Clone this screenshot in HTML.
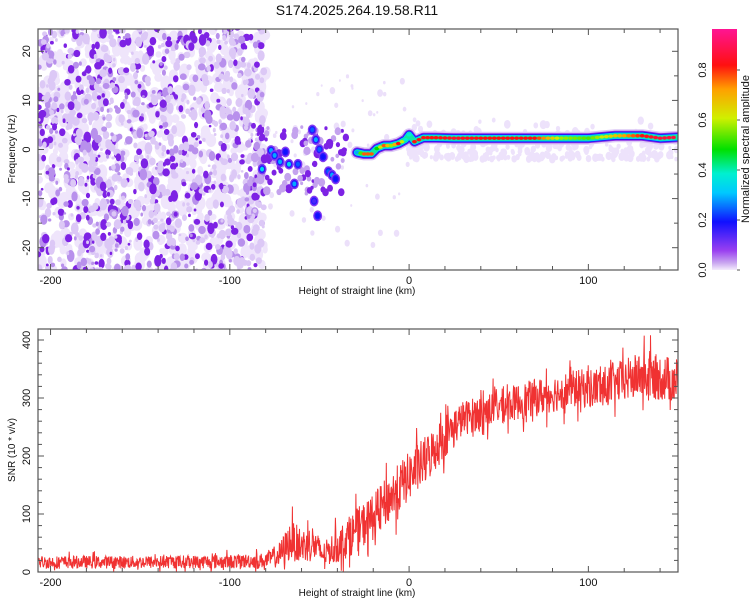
<!DOCTYPE html>
<html><head><meta charset="utf-8"><style>
body{margin:0;background:#fff;}
svg{display:block;font-family:"Liberation Sans",sans-serif;}
</style></head><body>
<svg id="chart" width="750" height="600" viewBox="0 0 750 600">
<text x="357" y="15" font-size="14" text-anchor="middle" fill="#111">S174.2025.264.19.58.R11</text>
<defs>
<clipPath id="c1"><rect x="38" y="29" width="640" height="241"/></clipPath>
<clipPath id="c2"><rect x="38" y="329" width="640" height="243"/></clipPath>
<linearGradient id="cbg" x1="0" y1="1" x2="0" y2="0">
<stop offset="0" stop-color="#f4ecfc"/><stop offset="0.03" stop-color="#c9a6f0"/><stop offset="0.08" stop-color="#9a40f0"/>
<stop offset="0.2" stop-color="#1010ff"/><stop offset="0.32" stop-color="#00c8ff"/><stop offset="0.4" stop-color="#00f0d0"/>
<stop offset="0.5" stop-color="#00e000"/><stop offset="0.63" stop-color="#d0f000"/><stop offset="0.75" stop-color="#ffa000"/>
<stop offset="0.85" stop-color="#ff1010"/><stop offset="1" stop-color="#ff1493"/></linearGradient>
</defs>
<g id="heat" clip-path="url(#c1)"></g>
<g id="snr" clip-path="url(#c2)"></g>
<g id="axes"></g>
<rect x="712" y="29" width="25" height="241" fill="url(#cbg)"/>
<text transform="translate(749,149) rotate(-90)" font-size="11" text-anchor="middle" fill="#111">Normalized spectral amplitude</text>
</svg>
<script>
// ---- data ----
const xTicks=[-200,-100,0,100];
const fTicks=[-20,-10,0,10,20];
const snrTicks=[0,100,200,300,400];
const cbTicks=[0.0,0.2,0.4,0.6,0.8];
// ridge of spectral peak (km, Hz, amplitude)
const ridgeX=[-29,-25,-21,-18,-14,-10,-6,-2,0,3,8,15,25,40,55,70,85,100,115,130,140,150];
const ridgeF=[-0.6,-0.9,-0.9,0.2,0.8,0.8,1.2,2.0,3.0,1.6,2.4,2.4,2.3,2.3,2.3,2.3,2.3,2.3,2.8,2.8,2.3,2.5];
const ridgeA=[0.3,0.8,0.8,0.5,0.8,0.6,0.85,0.4,0.4,0.85,0.85,0.85,0.88,0.85,0.85,0.85,0.6,0.55,0.7,0.85,0.9,0.9];
// strong isolated peaks before the ridge
const peakX=[-82,-77,-75,-72,-69,-67,-62,-64,-54,-52,-50,-48,-45,-43,-41,-53,-51];
const peakF=[-4,-0.2,-1.2,-2.5,-0.5,-3,-3,-7,4,2,0,-1.5,-4.5,-5.2,-6,-10.5,-13.5];
const peakA=[0.35,0.3,0.3,0.3,0.2,0.35,0.25,0.3,0.25,0.3,0.25,0.2,0.25,0.3,0.2,0.15,0.2];
// SNR trend and spread
const snrX=[-207,-150,-100,-80,-72,-66,-60,-54,-48,-40,-30,-20,-10,0,10,20,30,50,70,90,110,130,150];
const snrY=[17,17,18,20,30,55,45,50,30,45,70,95,130,165,195,235,265,285,300,315,320,340,330];
const snrN=[22,22,24,26,45,70,60,65,40,60,75,80,85,85,85,75,60,60,65,65,70,80,80];
// ---- scales ----
const NS='http://www.w3.org/2000/svg';
const fx=v=>38+(v+207)/357*640;
const fy=f=>149.5-f*4.91;
const sy=v=>572-v*0.58;
const cby=v=>270-v*250;
function colorOf(a){
  const st=[[0,[244,236,252]],[0.03,[201,166,240]],[0.08,[154,64,240]],[0.2,[16,16,255]],[0.32,[0,200,255]],[0.4,[0,240,208]],[0.5,[0,224,0]],[0.63,[208,240,0]],[0.75,[255,160,0]],[0.85,[255,16,16]],[1,[255,20,147]]];
  for(let i=1;i<st.length;i++){if(a<=st[i][0]){const t=(a-st[i-1][0])/(st[i][0]-st[i-1][0]);const c=st[i-1][1].map((v,k)=>Math.round(v+(st[i][1][k]-v)*t));return `rgb(${c})`;}}
  return 'rgb(255,20,147)';
}
function mk(tag,attrs,parent){const e=document.createElementNS(NS,tag);for(const k in attrs)e.setAttribute(k,attrs[k]);parent.appendChild(e);return e;}
let seed=12345;const rnd=()=>{seed=(seed*1103515245+12345)%2147483648;return seed/2147483648;};
const heat=document.getElementById('heat');
// background haze texture
for(let i=0;i<700;i++){
  const x=-207+rnd()*128, f=-25+rnd()*50, r=2.5+rnd()*3;
  const e=mk('ellipse',{cx:fx(x),cy:fy(f),rx:r,ry:r*(1+rnd()*0.6),fill:'#efe5fb'},heat);
  
  
}
// background noise texture
for(let i=0;i<1200;i++){
  const x=-207+rnd()*126, f=-25+rnd()*50, r=1.3+rnd()*2.6, l=rnd();
  const e=mk('ellipse',{cx:fx(x),cy:fy(f),rx:r,ry:r*(0.9+rnd()*0.7),fill:l<0.5?'#dcc8f6':(l<0.75?'#b890ec':'#7d22e4')},heat);
  
  
}
for(let i=0;i<60;i++){
  const x=-80+rnd()*80, f=-20+rnd()*35, r=1+rnd()*2;
  const e=mk('ellipse',{cx:fx(x),cy:fy(f),rx:r,ry:r*1.3,fill:'#ece0fa'},heat);
  
  
}
for(let i=0;i<100;i++){
  const x=-90+rnd()*55, f=-9+rnd()*14, r=1.5+rnd()*2.5;
  const e=mk('ellipse',{cx:fx(x),cy:fy(f),rx:r,ry:r*1.2,fill:rnd()<0.5?'#7d22e4':'#c4a2ee'},heat);
  
  
}
for(let i=0;i<300;i++){
  const x=rnd()*150, f=-2+rnd()*rnd()*9, r=1.5+rnd()*2;
  const e=mk('ellipse',{cx:fx(x),cy:fy(f),rx:r,ry:r*1.3,fill:'#ede2fb'},heat);
  
  
}
// peaks
peakX.forEach((x,i)=>{
  [[4.5,0.1],[3.2,0.18],[2,peakA[i]]].forEach(([r,a])=>{
    const e=mk('ellipse',{cx:fx(x),cy:fy(peakF[i]),rx:r,ry:r*1.2,fill:colorOf(a)},heat);
    
    
  });
});
// ridge layers
const pts=ridgeX.map((x,i)=>fx(x)+','+fy(ridgeF[i])).join(' ');
[[13,'#dcc8f6'],[10,'#8a2be2'],[8,'#1010ff'],[6.5,'#00c8ff'],[5,'#10e8a0']].forEach(([w,c])=>{
  const p=mk('polyline',{points:pts,fill:'none',stroke:c,'stroke-width':w,'stroke-linejoin':'round','stroke-linecap':'round'},heat);
  
  
});
for(let i=0;i<ridgeX.length-1;i++){
  const n=Math.max(1,Math.round((ridgeX[i+1]-ridgeX[i])/2.5));
  for(let k=0;k<n;k++){
    const t=k/n, x=ridgeX[i]+(ridgeX[i+1]-ridgeX[i])*t, f=ridgeF[i]+(ridgeF[i+1]-ridgeF[i])*t, a=ridgeA[i]+(ridgeA[i+1]-ridgeA[i])*t;
    const e=mk('ellipse',{cx:fx(x),cy:fy(f),rx:2.4,ry:1.7,fill:colorOf(a)},heat);
    
    
  }
}
// SNR line
const snr=document.getElementById('snr');
let d='';
for(let x=-207;x<=150;x+=0.22){
  let j=1;while(j<snrX.length-1&&snrX[j]<x)j++;
  const t=(x-snrX[j-1])/(snrX[j]-snrX[j-1]);
  const m=snrY[j-1]+(snrY[j]-snrY[j-1])*t, n=snrN[j-1]+(snrN[j]-snrN[j-1])*t;
  const q=rnd();
  const v=Math.max(0,m+(rnd()-0.5)*n*(q<0.1?1.8:1.0));
  d+=(d?'L':'M')+fx(x).toFixed(1)+','+sy(v).toFixed(1);
}
const sl=mk('path',{d:d,fill:'none',stroke:'#f03232','stroke-width':1},snr);


// axes
const ax=document.getElementById('axes');
function frame(y0,y1,name){
  const r=mk('rect',{x:38,y:y0,width:640,height:y1-y0,fill:'none',stroke:'#555','stroke-width':1.2},ax);
  
  
  for(let v=-200;v<=140;v+=20){const X=fx(v),L=v%100===0?6:4;
    mk('line',{x1:X,x2:X,y1:y1,y2:y1-L,stroke:'#555'},ax);mk('line',{x1:X,x2:X,y1:y0,y2:y0+L,stroke:'#555'},ax);}
  xTicks.forEach(v=>{const t=mk('text',{x:fx(v),y:y1+14,'font-size':11,'text-anchor':'middle',fill:'#111'},ax);t.textContent=v;
    });
  const xt=mk('text',{x:357,y:y1+24,'font-size':10,'text-anchor':'middle',fill:'#111'},ax);xt.textContent='Height of straight line (km)';
  
}
frame(29,270,'spectrogram-frame');frame(329,572,'snr-frame');
for(let f=-20;f<=20;f+=5){const Y=fy(f),L=f%10===0?6:4;mk('line',{x1:38,x2:38+L,y1:Y,y2:Y,stroke:'#555'},ax);mk('line',{x1:678,x2:678-L,y1:Y,y2:Y,stroke:'#555'},ax);}
fTicks.forEach(v=>{const t=mk('text',{transform:`translate(30,${fy(v)}) rotate(-90)`,'font-size':11,'text-anchor':'middle',fill:'#111'},ax);t.textContent=v;
  });
for(let v=0;v<=400;v+=20){const Y=sy(v),L=v%100===0?6:4;mk('line',{x1:38,x2:38+L,y1:Y,y2:Y,stroke:'#555'},ax);mk('line',{x1:678,x2:678-L,y1:Y,y2:Y,stroke:'#555'},ax);}
snrTicks.forEach(v=>{const t=mk('text',{transform:`translate(30,${sy(v)}) rotate(-90)`,'font-size':11,'text-anchor':'middle',fill:'#111'},ax);t.textContent=v;
  });
cbTicks.forEach(v=>{const t=mk('text',{transform:`translate(706,${cby(v)}) rotate(-90)`,'font-size':11,'text-anchor':'middle',fill:'#111'},ax);t.textContent=v.toFixed(1);
  
  mk('line',{x1:737,x2:740,y1:cby(v),y2:cby(v),stroke:'#555'},ax);});
const y1t=mk('text',{transform:'translate(15,149) rotate(-90)','font-size':10,'text-anchor':'middle',fill:'#111'},ax);y1t.textContent='Frequency (Hz)';

const y2t=mk('text',{transform:'translate(15,450) rotate(-90)','font-size':10,'text-anchor':'middle',fill:'#111'},ax);y2t.textContent='SNR (10 * v/v)';

</script>
</body></html>
